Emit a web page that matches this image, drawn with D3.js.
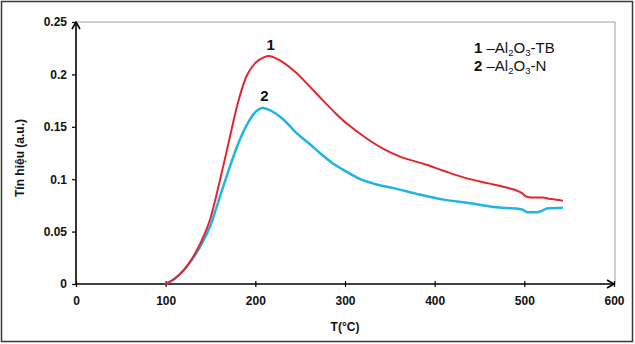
<!DOCTYPE html>
<html>
<head>
<meta charset="utf-8">
<script src="https://cdn.jsdelivr.net/npm/d3@7"></script>
<style>
  html, body { margin: 0; padding: 0; background: #fff; }
  svg { display: block; }
  text { font-family: Arial, "Liberation Sans", sans-serif; }
</style>
</head>
<body>
<svg id="chart" width="635" height="344"></svg>
<script>
// ---- data ----
const xTicks = [0, 100, 200, 300, 400, 500, 600];
const yTicks = [0, 0.05, 0.1, 0.15, 0.2, 0.25];
const yTickLabels = ["0", "0.05", "0.1", "0.15", "0.2", "0.25"];

const tempTB   = [100, 110, 120, 130, 140, 150, 160, 170, 180, 190, 200, 210, 215, 220, 230, 245, 260, 275, 290, 300, 315, 330, 345, 360, 390, 410, 435, 460, 480, 492, 497, 502, 508, 520, 530, 543];
const signalTB = [0, 0.005, 0.013, 0.025, 0.041, 0.063, 0.097, 0.134, 0.171, 0.198, 0.211, 0.2165, 0.2175, 0.2165, 0.212, 0.202, 0.189, 0.1755, 0.1625, 0.1545, 0.1445, 0.1355, 0.128, 0.122, 0.114, 0.108, 0.101, 0.096, 0.092, 0.089, 0.087, 0.0835, 0.0825, 0.0825, 0.081, 0.0795];

const tempN    = [100, 110, 120, 130, 140, 150, 160, 170, 180, 190, 200, 208, 216, 230, 246, 260, 272, 285, 300, 317, 335, 354, 380, 410, 440, 465, 480, 495, 500, 503, 514, 520, 525, 543];
const signalN  = [0, 0.005, 0.013, 0.024, 0.038, 0.056, 0.082, 0.108, 0.132, 0.151, 0.164, 0.168, 0.166, 0.158, 0.144, 0.134, 0.125, 0.116, 0.108, 0.100, 0.095, 0.0915, 0.086, 0.0805, 0.077, 0.0735, 0.0725, 0.0715, 0.070, 0.0684, 0.0684, 0.070, 0.072, 0.0728];

const seriesNames = ["1", "2"];

// ---- layout ----
const svg = d3.select("#chart");
const W = 635, H = 344;
const plot = { left: 76, right: 614, top: 22, bottom: 284 };

const x = d3.scaleLinear().domain([0, 600]).range([plot.left, plot.right]);
const y = d3.scaleLinear().domain([0, 0.25]).range([plot.bottom, plot.top]);

// outer border
svg.append("rect")
  .attr("x", 1.5).attr("y", 1.5)
  .attr("width", W - 4).attr("height", H - 4)
  .attr("fill", "#fff").attr("stroke", "#3a3a3a").attr("stroke-width", 1.5);

// plot-area frame (top & right, light gray)
svg.append("path")
  .attr("d", `M${plot.left},${plot.top}H${plot.right + 1}V${plot.bottom}`)
  .attr("fill", "none").attr("stroke", "#a0a0a0").attr("stroke-width", 1);

// ---- axes ----
const xAxis = d3.axisBottom(x).tickValues(xTicks).tickSizeInner(4).tickSizeOuter(0).tickPadding(8);
const gx = svg.append("g").attr("transform", `translate(0,${plot.bottom})`).call(xAxis);
gx.select(".domain").remove();
gx.selectAll(".tick line").attr("y1", -3).attr("y2", 3).attr("stroke", "#000").attr("stroke-width", 1.2);
gx.selectAll(".tick text").attr("font-size", 12).attr("font-weight", "bold").attr("fill", "#111")
  .attr("font-family", "Arial, 'Liberation Sans', sans-serif");

const yAxis = d3.axisLeft(y).tickValues(yTicks).tickFormat((d, i) => yTickLabels[i])
  .tickSizeInner(4).tickSizeOuter(0).tickPadding(5);
const gy = svg.append("g").attr("transform", `translate(${plot.left},0)`).call(yAxis);
gy.select(".domain").remove();
gy.selectAll(".tick line").attr("stroke", "#000").attr("stroke-width", 1.2);
gy.selectAll(".tick text").attr("font-size", 12).attr("font-weight", "bold").attr("fill", "#111")
  .attr("font-family", "Arial, 'Liberation Sans', sans-serif");

// axis lines with open arrowheads
const axisPath = svg.append("g").attr("stroke", "#000").attr("stroke-width", 1.6).attr("fill", "none");
axisPath.append("path").attr("d", `M${plot.left},${plot.bottom}H${plot.right}`);
axisPath.append("path").attr("d", `M${plot.right - 7},${plot.bottom - 4}L${plot.right},${plot.bottom}L${plot.right - 7},${plot.bottom + 4}`);
axisPath.append("path").attr("d", `M${plot.left},${plot.bottom}V${plot.top}`);
axisPath.append("path").attr("d", `M${plot.left - 4},${plot.top + 7}L${plot.left},${plot.top}L${plot.left + 4},${plot.top + 7}`);

// axis titles
svg.append("text")
  .attr("x", (plot.left + plot.right) / 2).attr("y", 331)
  .attr("text-anchor", "middle").attr("font-size", 12).attr("font-weight", "bold").attr("fill", "#111")
  .text("T(°C)");
svg.append("text")
  .attr("transform", `translate(24,${(plot.top + plot.bottom) / 2 + 5}) rotate(-90)`)
  .attr("text-anchor", "middle").attr("font-size", 12).attr("font-weight", "bold").attr("fill", "#111")
  .text("Tín hiệu (a.u.)");

// ---- series ----
const line = d3.line().x(d => x(d[0])).y(d => y(d[1])).curve(d3.curveMonotoneX);
const dataTB = tempTB.map((t, i) => [t, signalTB[i]]);
const dataN  = tempN.map((t, i) => [t, signalN[i]]);

svg.append("path").datum(dataN).attr("d", line)
  .attr("fill", "none").attr("stroke", "#1eb4e6").attr("stroke-width", 2.5).attr("stroke-linejoin", "round");
svg.append("path").datum(dataTB).attr("d", line)
  .attr("fill", "none").attr("stroke", "#e5252d").attr("stroke-width", 2).attr("stroke-linejoin", "round");

// peak labels
function peakOf(data) { return data.reduce((a, b) => (b[1] > a[1] ? b : a)); }
const pTB = peakOf(dataTB), pN = peakOf(dataN);
svg.append("text").attr("x", x(pTB[0]) + 2).attr("y", y(pTB[1]) - 6)
  .attr("text-anchor", "middle").attr("font-size", 15).attr("font-weight", "bold").attr("fill", "#111")
  .text(seriesNames[0]);
svg.append("text").attr("x", x(pN[0]) + 2).attr("y", y(pN[1]) - 7)
  .attr("text-anchor", "middle").attr("font-size", 15).attr("font-weight", "bold").attr("fill", "#111")
  .text(seriesNames[1]);

// ---- legend ----
const legend = [
  { num: "1", parts: ["Al", "2", "O", "3", "-TB"] },
  { num: "2", parts: ["Al", "2", "O", "3", "-N"] }
];
legend.forEach((item, i) => {
  const t = svg.append("text").attr("x", 474).attr("y", 53 + i * 18)
    .attr("font-size", 15).attr("fill", "#111");
  t.append("tspan").attr("font-weight", "bold").text(item.num);
  t.append("tspan").text(" \u2013" + item.parts[0]);
  t.append("tspan").attr("font-size", 9.5).attr("dy", 3).text(item.parts[1]);
  t.append("tspan").attr("dy", -3).text(item.parts[2]);
  t.append("tspan").attr("font-size", 9.5).attr("dy", 3).text(item.parts[3]);
  t.append("tspan").attr("dy", -3).text(item.parts[4]);
});
</script>
</body>
</html>
